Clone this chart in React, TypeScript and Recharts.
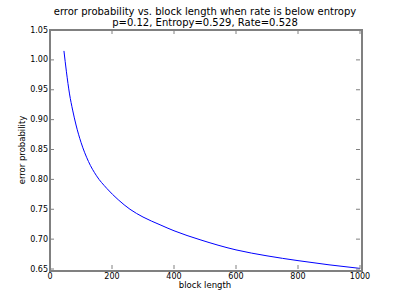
import React from 'react';
import { LineChart, Line, XAxis, YAxis } from 'recharts';

const blockLengths = [45, 53, 63, 73, 84, 100, 124, 150, 183, 220, 258, 300, 355, 400, 484, 600, 700, 800, 900, 1000];
const errorProbs = [1.015, 0.98, 0.943, 0.916, 0.891, 0.862, 0.83, 0.806, 0.785, 0.766, 0.75, 0.737, 0.724, 0.714, 0.699, 0.682, 0.672, 0.664, 0.657, 0.651];
const xTicks = [0, 200, 400, 600, 800, 1000];
const yTicks = [0.65, 0.7, 0.75, 0.8, 0.85, 0.9, 0.95, 1.0, 1.05];
const titleLines = ['error probability vs. block length when rate is below entropy', 'p=0.12, Entropy=0.529, Rate=0.528'];
const xLabel = 'block length';
const yLabel = 'error probability';

const data = blockLengths.map((n, i) => ({ n, p: errorProbs[i] }));

const FONT = '"DejaVu Sans", sans-serif';
const FRAME = '#808080';
const W = 400;
const H = 300;
const M = { top: 30, right: 40, left: 0, bottom: 0 };
const YAXIS_W = 50;
const XAXIS_H = 31;
const PLOT_LEFT = M.left + YAXIS_W;
const PLOT_RIGHT = W - M.right;
const PLOT_TOP = M.top;
const PLOT_BOTTOM = H - M.bottom - XAXIS_H;
const TICK = 4;

const XTick = (props: any) => {
  const { x, payload } = props;
  return (
    <g>
      <path d={`M${x},${PLOT_BOTTOM}V${PLOT_BOTTOM - TICK}M${x},${PLOT_TOP}V${PLOT_TOP + TICK}`} stroke={FRAME} strokeWidth={1} fill="none" />
      <text x={x} y={PLOT_BOTTOM + 7} textAnchor="middle" dominantBaseline="central" fontSize={8} fontFamily={FONT} fill="#000">
        {String(payload.value)}
      </text>
    </g>
  );
};

const YTick = (props: any) => {
  const { y, payload } = props;
  return (
    <g>
      <path d={`M${PLOT_LEFT},${y}H${PLOT_LEFT + TICK}M${PLOT_RIGHT},${y}H${PLOT_RIGHT - TICK}`} stroke={FRAME} strokeWidth={1} fill="none" />
      <text x={PLOT_LEFT - 2} y={y} textAnchor="end" dominantBaseline="central" fontSize={8} fontFamily={FONT} fill="#000">
        {Number(payload.value).toFixed(2)}
      </text>
    </g>
  );
};

export default function App() {
  return (
    <div style={{ position: 'absolute', left: 0, top: 0, width: W, height: H, background: '#fff', fontFamily: FONT }}>
      <LineChart width={W} height={H} data={data} margin={M}>
        <XAxis
          dataKey="n"
          type="number"
          domain={[0, 1000]}
          ticks={xTicks}
          height={XAXIS_H}
          axisLine={false}
          tickLine={false}
          tick={XTick}
          allowDataOverflow
        />
        <YAxis
          type="number"
          domain={[0.65, 1.05]}
          ticks={yTicks}
          width={YAXIS_W}
          axisLine={false}
          tickLine={false}
          tick={YTick}
          allowDataOverflow
        />
        <Line
          dataKey="p"
          type="monotone"
          stroke="#0000ff"
          strokeWidth={1}
          dot={false}
          isAnimationActive={false}
        />
      </LineChart>
      <div
        style={{
          position: 'absolute',
          left: PLOT_LEFT - 1,
          top: PLOT_TOP - 1,
          width: PLOT_RIGHT - PLOT_LEFT,
          height: PLOT_BOTTOM - PLOT_TOP,
          border: `2px solid ${FRAME}`,
          pointerEvents: 'none',
        }}
      />
      <div style={{ position: 'absolute', left: 0, width: 410, top: 6, textAlign: 'center', fontSize: 10, lineHeight: '11px', color: '#000' }}>
        {titleLines.map((t) => (
          <div key={t}>{t}</div>
        ))}
      </div>
      <div style={{ position: 'absolute', left: 105, width: 200, top: 280, textAlign: 'center', fontSize: 8.5, lineHeight: '11px', color: '#000' }}>
        {xLabel}
      </div>
      <div style={{ position: 'absolute', left: 22, top: 150, width: 0, height: 0 }}>
        <div style={{ position: 'absolute', left: -100, top: -6, width: 200, textAlign: 'center', fontSize: 8.5, lineHeight: '12px', transform: 'rotate(-90deg)', color: '#000' }}>
          {yLabel}
        </div>
      </div>
    </div>
  );
}
